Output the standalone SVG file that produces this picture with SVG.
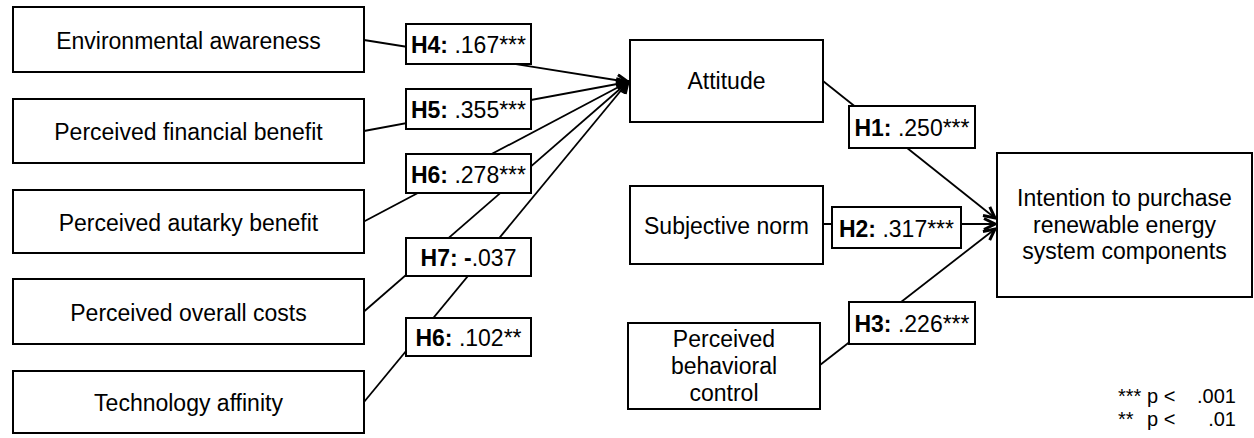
<svg xmlns="http://www.w3.org/2000/svg" width="1254" height="438" viewBox="0 0 1254 438">
  <style>
    .box { fill: #ffffff; stroke: #000000; stroke-width: 2; }
    .lbl { fill: #ffffff; stroke: #000000; stroke-width: 2; }
    .edge { fill: none; stroke: #000000; stroke-width: 1.8; marker-end: url(#arrow); }
    text { font-family: "Liberation Sans", Arial, sans-serif; fill: #000000; }
    .node-text { font-size: 23px; text-anchor: middle; }
    .lbl-text { font-size: 23px; text-anchor: middle; }
    .legend { font-size: 20px; }
    .b { font-weight: bold; }
  </style>
  <defs>
    <marker id="arrow" viewBox="0 0 14 14" refX="12.5" refY="7" markerWidth="14" markerHeight="14" markerUnits="userSpaceOnUse" orient="auto">
      <path d="M1.5,1.5 L12.5,7 L1.5,12.5" fill="none" stroke="#000000" stroke-width="3" stroke-linejoin="miter"/>
    </marker>
  </defs>

  <rect width="1254" height="438" fill="#ffffff"/>

  <!-- paths -->
  <g id="connectors">
    <line class="edge" x1="364" y1="40" x2="628" y2="82"/>
    <line class="edge" x1="364" y1="131" x2="628" y2="82"/>
    <line class="edge" x1="364" y1="221.5" x2="628" y2="82"/>
    <line class="edge" x1="364" y1="311.5" x2="628" y2="82"/>
    <line class="edge" x1="364" y1="402" x2="628" y2="82"/>
    <line class="edge" x1="823" y1="81" x2="995" y2="218"/>
    <line class="edge" x1="823" y1="224" x2="995" y2="224"/>
    <line class="edge" x1="820" y1="365" x2="995" y2="229"/>
  </g>

  <!-- path coefficients -->
  <g id="coefficients">
    <g id="lbl-h4">
      <rect class="lbl" x="406" y="24" width="125" height="40"/>
      <text class="lbl-text" x="468.5" y="53"><tspan class="b">H4:</tspan> .167***</text>
    </g>
    <g id="lbl-h5">
      <rect class="lbl" x="406" y="89" width="125" height="40"/>
      <text class="lbl-text" x="468.5" y="118"><tspan class="b">H5:</tspan> .355***</text>
    </g>
    <g id="lbl-h6a">
      <rect class="lbl" x="406" y="154" width="125" height="39"/>
      <text class="lbl-text" x="468.5" y="182.5"><tspan class="b">H6:</tspan> .278***</text>
    </g>
    <g id="lbl-h7">
      <rect class="lbl" x="406" y="238" width="125" height="38"/>
      <text class="lbl-text" x="468.5" y="265.5"><tspan class="b">H7: -</tspan>.037</text>
    </g>
    <g id="lbl-h6b">
      <rect class="lbl" x="406" y="318" width="125" height="38"/>
      <text class="lbl-text" x="468.5" y="345.5"><tspan class="b">H6:</tspan> .102**</text>
    </g>
    <g id="lbl-h1">
      <rect class="lbl" x="849" y="106" width="126" height="42"/>
      <text class="lbl-text" x="912" y="136"><tspan class="b">H1:</tspan> .250***</text>
    </g>
    <g id="lbl-h2">
      <rect class="lbl" x="832" y="207" width="129" height="41"/>
      <text class="lbl-text" x="896.5" y="236.5"><tspan class="b">H2:</tspan> .317***</text>
    </g>
    <g id="lbl-h3">
      <rect class="lbl" x="849" y="302" width="126" height="42"/>
      <text class="lbl-text" x="912" y="332"><tspan class="b">H3:</tspan> .226***</text>
    </g>
  </g>

  <!-- constructs -->
  <g id="environmental-awareness">
    <rect class="box" x="13" y="7" width="351" height="65"/>
    <text class="node-text" x="188.5" y="48.5">Environmental awareness</text>
  </g>
  <g id="perceived-financial-benefit">
    <rect class="box" x="13" y="99" width="351" height="64"/>
    <text class="node-text" x="188.5" y="140">Perceived financial benefit</text>
  </g>
  <g id="perceived-autarky-benefit">
    <rect class="box" x="13" y="190" width="351" height="63"/>
    <text class="node-text" x="188.5" y="231">Perceived autarky benefit</text>
  </g>
  <g id="perceived-overall-costs">
    <rect class="box" x="13" y="279" width="351" height="65"/>
    <text class="node-text" x="188.5" y="320.5">Perceived overall costs</text>
  </g>
  <g id="technology-affinity">
    <rect class="box" x="13" y="371" width="351" height="62"/>
    <text class="node-text" x="188.5" y="410.5">Technology affinity</text>
  </g>
  <g id="attitude">
    <rect class="box" x="630" y="40" width="193" height="82"/>
    <text class="node-text" x="726.5" y="89">Attitude</text>
  </g>
  <g id="subjective-norm">
    <rect class="box" x="630" y="186" width="193" height="78"/>
    <text class="node-text" x="726.5" y="233.5">Subjective norm</text>
  </g>
  <g id="perceived-behavioral-control">
    <rect class="box" x="628" y="323" width="192" height="86"/>
    <text class="node-text" x="724" y="347">Perceived</text>
    <text class="node-text" x="724" y="374">behavioral</text>
    <text class="node-text" x="724" y="401">control</text>
  </g>
  <g id="intention">
    <rect class="box" x="997" y="153" width="255" height="144"/>
    <text class="node-text" x="1124.5" y="206">Intention to purchase</text>
    <text class="node-text" x="1124.5" y="232.5">renewable energy</text>
    <text class="node-text" x="1124.5" y="259">system components</text>
  </g>

  <!-- significance levels -->
  <g id="legend">
    <text class="legend" x="1118" y="403">***</text>
    <text class="legend" x="1147" y="403">p &lt;</text>
    <text class="legend" x="1236" y="403" text-anchor="end">.001</text>
    <text class="legend" x="1118" y="426">**</text>
    <text class="legend" x="1147" y="426">p &lt;</text>
    <text class="legend" x="1236" y="426" text-anchor="end">.01</text>
  </g>
</svg>
